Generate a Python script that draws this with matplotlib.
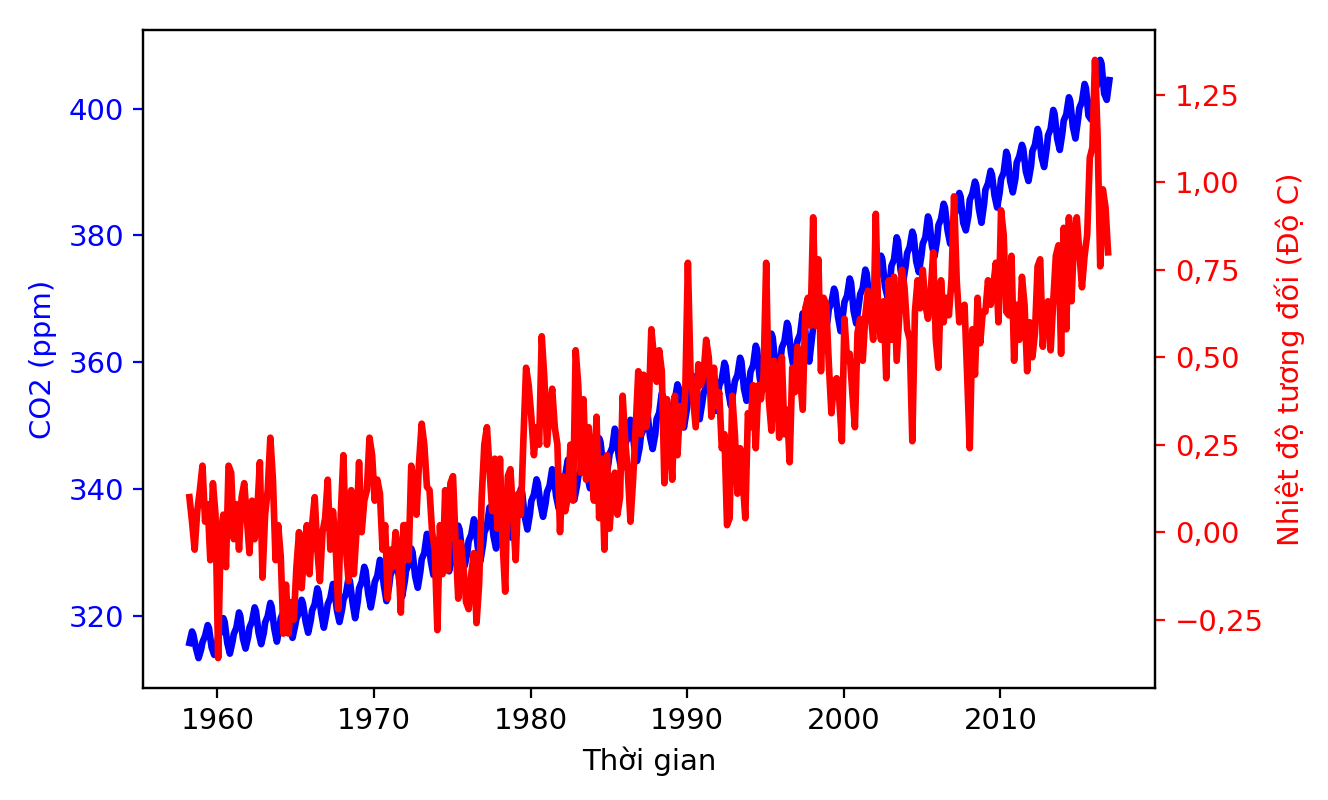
import numpy as np
import matplotlib
matplotlib.use("Agg")
import matplotlib.pyplot as plt
from matplotlib.ticker import FuncFormatter, MultipleLocator

plt.rcParams["font.size"] = 10.5

# CO2 (ppm): one row per year, samples at Jan, Mar, May, Jun, Aug, Oct, Dec
co2_years = list(range(1958, 2017))
co2_months = [1, 3, 5, 6, 8, 10, 12]
co2_rows = [
    [None, 315.7, 317.5, 317.0, 314.9, 313.3, 314.7],  # 1958
    [315.8, 316.8, 318.5, 318.0, 315.0, 313.8, 315.3],
    [316.6, 317.6, 319.6, 319.0, 315.7, 314.0, 315.9],  # 1960
    [317.1, 318.1, 320.5, 319.9, 316.4, 314.8, 316.6],
    [318.1, 319.1, 321.3, 320.7, 317.3, 315.5, 317.3],
    [318.9, 319.9, 322.0, 321.4, 318.0, 315.9, 317.9],
    [319.6, 320.6, 322.3, 321.7, 318.7, 316.5, 318.4],
    [319.5, 320.5, 322.5, 321.9, 319.1, 317.3, 319.3],
    [320.8, 321.8, 324.3, 323.7, 320.4, 318.1, 320.3],
    [321.8, 322.8, 325.0, 324.4, 320.9, 319.0, 321.0],
    [322.5, 323.5, 326.0, 325.4, 322.1, 319.6, 322.2],
    [324.3, 325.3, 327.7, 327.1, 323.5, 321.3, 323.6],
    [325.3, 326.3, 328.8, 328.2, 324.8, 322.3, 324.6],  # 1970
    [326.4, 327.4, 329.4, 328.8, 325.2, 323.0, 325.4],
    [327.1, 328.1, 330.6, 330.0, 326.2, 324.4, 327.0],
    [328.9, 329.9, 332.9, 332.3, 328.6, 326.4, 328.2],
    [329.6, 330.6, 333.5, 332.9, 329.2, 327.0, 328.9],
    [330.8, 331.8, 334.2, 333.6, 330.0, 327.9, 330.0],
    [331.8, 332.8, 335.2, 334.6, 330.8, 328.6, 331.2],
    [333.1, 334.1, 337.1, 336.5, 332.6, 330.6, 332.8],
    [334.9, 335.9, 338.6, 338.0, 334.2, 332.3, 334.4],
    [336.3, 337.3, 340.0, 339.4, 335.6, 333.6, 336.1],
    [338.1, 339.1, 341.5, 340.9, 337.6, 335.6, 337.8],  # 1980
    [339.5, 340.5, 343.1, 342.5, 338.9, 336.9, 339.3],
    [341.1, 342.1, 344.6, 344.0, 340.2, 338.3, 340.5],
    [342.0, 343.0, 346.3, 345.7, 342.0, 340.1, 342.2],
    [344.3, 345.3, 348.0, 347.4, 343.7, 341.6, 343.9],
    [345.5, 346.5, 349.5, 348.9, 345.2, 343.1, 345.3],
    [347.1, 348.1, 350.9, 350.3, 346.4, 344.4, 346.5],
    [348.4, 349.4, 352.6, 352.0, 348.2, 346.3, 348.6],
    [351.0, 352.0, 355.1, 354.5, 350.4, 348.7, 350.7],
    [353.0, 354.0, 356.5, 355.9, 352.0, 349.7, 352.3],
    [354.0, 355.0, 357.8, 357.2, 353.2, 351.0, 353.6],  # 1990
    [355.1, 356.1, 359.3, 358.7, 354.6, 352.3, 354.8],
    [356.3, 357.3, 359.9, 359.3, 355.3, 353.1, 355.6],
    [357.0, 358.0, 360.7, 360.1, 355.8, 353.9, 356.6],
    [358.5, 359.5, 362.6, 362.0, 357.6, 355.5, 358.4],
    [360.1, 361.1, 364.5, 363.9, 359.6, 357.7, 360.4],
    [362.3, 363.3, 366.2, 365.6, 361.5, 359.2, 362.0],
    [363.4, 364.4, 367.7, 367.1, 362.6, 360.1, 363.6],
    [365.5, 366.5, 370.0, 369.4, 365.8, 364.0, 366.6],
    [368.4, 369.4, 371.6, 371.0, 367.2, 364.9, 367.8],
    [369.5, 370.5, 373.2, 372.6, 368.1, 366.1, 369.1],  # 2000
    [370.7, 371.7, 374.6, 374.0, 369.8, 367.9, 370.6],
    [372.9, 373.9, 376.8, 376.2, 372.0, 370.2, 373.0],
    [375.2, 376.2, 379.7, 379.1, 374.5, 372.7, 375.4],
    [377.2, 378.2, 380.6, 380.0, 375.9, 374.2, 376.9],
    [378.7, 379.7, 383.0, 382.4, 378.4, 376.7, 379.3],
    [381.6, 382.6, 385.0, 384.4, 380.8, 378.7, 381.4],
    [383.1, 384.1, 386.7, 386.1, 382.0, 380.8, 383.1],
    [385.6, 386.6, 388.5, 387.9, 384.2, 382.0, 385.0],
    [387.2, 388.2, 390.2, 389.6, 386.3, 384.4, 386.9],
    [388.9, 389.9, 393.2, 392.6, 388.6, 386.8, 389.0],  # 2010
    [391.5, 392.5, 394.3, 393.7, 390.1, 388.6, 391.0],
    [393.3, 394.3, 396.8, 396.2, 392.4, 390.8, 393.7],
    [395.8, 396.8, 399.8, 399.2, 395.3, 393.5, 396.2],
    [398.1, 399.1, 401.8, 401.2, 397.2, 395.3, 398.3],
    [400.1, 401.1, 403.9, 403.3, 398.9, 398.3, 401.3],
    [403.0, 404.0, 407.7, 407.1, 402.4, 401.4, 404.5],  # 2016
]

# temperature anomaly (deg C), samples at Jan, Mar, May, Jul, Sep, Nov
temp_years = list(range(1958, 2017))
temp_months = [1, 3, 5, 7, 9, 11]
temp_rows = [
    [None, 0.10, 0.03, -0.05, 0.06, 0.12],  # 1958
    [0.19, 0.03, 0.08, -0.08, 0.14, 0.05],
    [-0.36, 0.00, 0.05, -0.10, 0.19, 0.17],  # 1960
    [-0.02, 0.08, -0.05, 0.10, 0.14, 0.04],
    [-0.06, 0.09, -0.02, 0.06, 0.20, -0.13],
    [0.05, 0.12, 0.27, 0.15, -0.08, 0.02],
    [-0.07, -0.29, -0.15, -0.29, -0.20, -0.25],
    [-0.10, 0.00, -0.16, -0.05, 0.02, -0.12],
    [0.02, 0.10, -0.05, -0.14, 0.00, 0.04],
    [0.15, -0.05, 0.06, -0.03, -0.22, 0.05],
    [0.22, -0.05, -0.14, 0.12, -0.12, 0.00],
    [0.20, 0.00, 0.09, 0.12, 0.27, 0.22],
    [0.09, 0.15, 0.11, -0.05, 0.02, -0.19],  # 1970
    [-0.05, -0.10, 0.00, -0.06, -0.23, 0.02],
    [0.02, -0.08, 0.19, 0.14, 0.05, 0.20],
    [0.31, 0.25, 0.13, 0.12, 0.00, -0.05],
    [-0.28, 0.02, -0.12, 0.12, -0.11, 0.14],
    [0.16, -0.03, -0.19, -0.03, -0.10, -0.20],
    [-0.22, -0.12, -0.06, -0.26, -0.15, 0.10],
    [0.25, 0.30, 0.18, 0.06, 0.21, 0.01],
    [0.21, -0.03, -0.17, 0.16, 0.18, 0.05],
    [-0.08, 0.11, 0.05, 0.27, 0.47, 0.42],
    [0.33, 0.22, 0.30, 0.25, 0.56, 0.44],  # 1980
    [0.25, 0.35, 0.41, 0.30, 0.25, 0.00],
    [0.16, 0.06, 0.10, 0.25, 0.09, 0.52],
    [0.42, 0.17, 0.38, 0.15, 0.30, 0.20],
    [0.09, 0.33, 0.04, 0.21, -0.05, 0.22],
    [0.01, 0.12, 0.17, 0.05, 0.10, 0.39],
    [0.26, 0.17, 0.03, 0.15, 0.30, 0.46],
    [0.28, 0.45, 0.30, 0.36, 0.58, 0.50],
    [0.43, 0.52, 0.46, 0.14, 0.38, 0.27],
    [0.15, 0.39, 0.22, 0.36, 0.30, 0.40],
    [0.77, 0.46, 0.38, 0.30, 0.48, 0.42],  # 1990
    [0.45, 0.55, 0.50, 0.33, 0.47, 0.36],
    [0.40, 0.24, 0.28, 0.02, 0.04, 0.39],
    [0.28, 0.11, 0.24, 0.15, 0.04, 0.34],
    [0.30, 0.42, 0.24, 0.42, 0.38, 0.45],
    [0.77, 0.38, 0.29, 0.49, 0.43, 0.27],
    [0.50, 0.28, 0.35, 0.20, 0.47, 0.40],
    [0.53, 0.44, 0.35, 0.64, 0.67, 0.59],
    [0.90, 0.59, 0.78, 0.46, 0.67, 0.65],
    [0.48, 0.34, 0.43, 0.44, 0.38, 0.26],
    [0.61, 0.49, 0.51, 0.40, 0.30, 0.57],  # 2000
    [0.61, 0.49, 0.62, 0.69, 0.63, 0.55],
    [0.91, 0.60, 0.55, 0.66, 0.44, 0.72],
    [0.55, 0.73, 0.49, 0.62, 0.75, 0.70],
    [0.58, 0.55, 0.26, 0.63, 0.72, 0.64],
    [0.75, 0.65, 0.61, 0.68, 0.80, 0.55],
    [0.47, 0.72, 0.60, 0.67, 0.62, 0.72],
    [0.96, 0.72, 0.60, 0.63, 0.65, 0.45],
    [0.24, 0.58, 0.45, 0.67, 0.54, 0.63],
    [0.63, 0.72, 0.65, 0.70, 0.77, 0.60],
    [0.92, 0.85, 0.63, 0.62, 0.79, 0.49],  # 2010
    [0.65, 0.55, 0.73, 0.65, 0.46, 0.60],
    [0.50, 0.57, 0.76, 0.78, 0.53, 0.65],
    [0.66, 0.52, 0.66, 0.79, 0.82, 0.51],
    [0.87, 0.58, 0.90, 0.66, 0.85, 0.90],
    [0.80, 0.70, 0.79, 0.85, 1.07, 1.10],
    [1.35, 1.13, 0.76, 0.98, 0.93, 0.80],  # 2016
]


def flatten(years, months, rows):
    xs, ys = [], []
    for yr, row in zip(years, rows):
        for m, v in zip(months, row):
            if v is None:
                continue
            xs.append(yr + (m - 0.5) / 12)
            ys.append(v)
    return np.array(xs), np.array(ys)


co2_t, co2 = flatten(co2_years, co2_months, co2_rows)
temp_t, temp = flatten(temp_years, temp_months, temp_rows)

fig, ax = plt.subplots(figsize=(6.64, 4.0), dpi=200)
fig.subplots_adjust(left=0.108, right=0.870, bottom=0.140, top=0.9625)

ax.plot(co2_t, co2, color="blue", lw=2.4)
ax.set_xlabel("Thời gian")
ax.set_ylabel("CO2 (ppm)", color="blue")
ax.tick_params(axis="y", colors="blue")

ax2 = ax.twinx()
ax2.plot(temp_t, temp, color="red", lw=2.4)
ax2.set_ylabel("Nhiệt độ tương đối (Độ C)", color="red")
ax2.tick_params(axis="y", colors="red")
ax2.yaxis.set_major_locator(MultipleLocator(0.25))
ax2.yaxis.set_major_formatter(
    FuncFormatter(lambda v, p: f"{v:.2f}".replace(".", ",").replace("-", "\u2212")))

fig.savefig("out.png", dpi=200)
